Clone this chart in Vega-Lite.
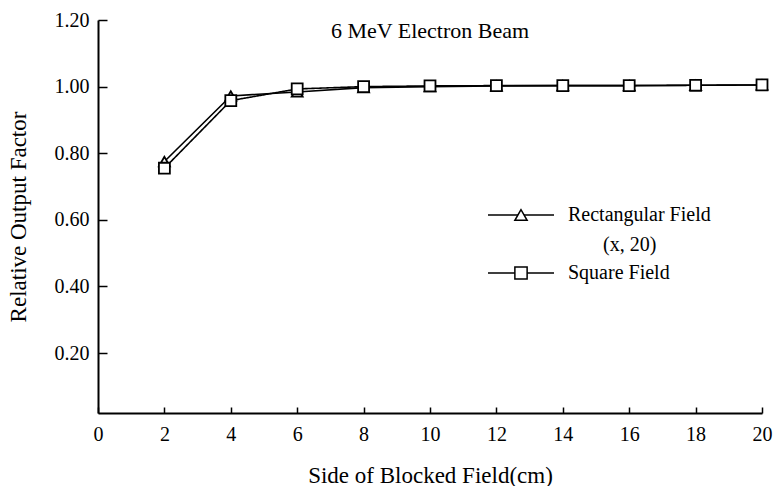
{
  "$schema": "https://vega.github.io/schema/vega-lite/v6.json",
  "width": 664,
  "height": 393,
  "autosize": {"type": "none"},
  "padding": {"left": 98, "top": 20, "right": 14, "bottom": 73},
  "background": "white",
  "config": {
    "font": "Liberation Serif",
    "view": {"stroke": null},
    "style": {"guide-label": {"lineHeight": 30}},
    "axis": {
      "domainColor": "black",
      "domainWidth": 2,
      "tickColor": "black",
      "tickWidth": 1.5,
      "labelColor": "black",
      "labelFont": "Liberation Serif",
      "labelFontSize": 20,
      "titleColor": "black",
      "titleFont": "Liberation Serif",
      "titleFontSize": 23,
      "titleFontWeight": "normal",
      "grid": false
    },
    "legend": {
      "labelFont": "Liberation Serif",
      "labelFontSize": 20,
      "labelColor": "black"
    }
  },
  "title": {
    "text": "6 MeV Electron Beam",
    "font": "Liberation Serif",
    "fontSize": 22,
    "fontWeight": "normal",
    "color": "black",
    "anchor": "middle",
    "offset": -33
  },
  "data": {
    "values": [
      {"side": 2, "factor": 0.775, "series": "Rectangular Field"},
      {"side": 4, "factor": 0.972, "series": "Rectangular Field"},
      {"side": 6, "factor": 0.984, "series": "Rectangular Field"},
      {"side": 8, "factor": 0.997, "series": "Rectangular Field"},
      {"side": 10, "factor": 1.0, "series": "Rectangular Field"},
      {"side": 12, "factor": 1.002, "series": "Rectangular Field"},
      {"side": 14, "factor": 1.003, "series": "Rectangular Field"},
      {"side": 16, "factor": 1.003, "series": "Rectangular Field"},
      {"side": 18, "factor": 1.004, "series": "Rectangular Field"},
      {"side": 20, "factor": 1.005, "series": "Rectangular Field"},
      {"side": 2, "factor": 0.755, "series": "Square Field"},
      {"side": 4, "factor": 0.958, "series": "Square Field"},
      {"side": 6, "factor": 0.993, "series": "Square Field"},
      {"side": 8, "factor": 1.0, "series": "Square Field"},
      {"side": 10, "factor": 1.002, "series": "Square Field"},
      {"side": 12, "factor": 1.003, "series": "Square Field"},
      {"side": 14, "factor": 1.003, "series": "Square Field"},
      {"side": 16, "factor": 1.003, "series": "Square Field"},
      {"side": 18, "factor": 1.004, "series": "Square Field"},
      {"side": 20, "factor": 1.005, "series": "Square Field"}
    ]
  },
  "encoding": {
    "x": {
      "field": "side",
      "type": "quantitative",
      "scale": {"domain": [0, 20], "nice": false, "zero": false},
      "axis": {
        "values": [0, 2, 4, 6, 8, 10, 12, 14, 16, 18, 20],
        "tickSize": -6,
        "labelPadding": 17,
        "labelFlush": false,
        "title": "Side of Blocked Field(cm)",
        "titlePadding": 20
      }
    },
    "y": {
      "field": "factor",
      "type": "quantitative",
      "scale": {"domain": [0.02, 1.2], "nice": false, "zero": false},
      "axis": {
        "values": [0.2, 0.4, 0.6, 0.8, 1.0, 1.2],
        "format": ".2f",
        "tickSize": -9,
        "labelPadding": 18,
        "labelFlush": false,
        "title": "Relative Output Factor",
        "titlePadding": 24
      }
    }
  },
  "layer": [
    {
      "transform": [{"filter": "datum.series == 'Rectangular Field'"}],
      "mark": {"type": "line", "color": "black", "strokeWidth": 1.6},
      "encoding": {
        "color": {
          "field": "series",
          "type": "nominal",
          "scale": {"range": ["black"]},
          "legend": {
            "title": null,
            "orient": "none",
            "legendX": 389,
            "legendY": 161,
            "zindex": 1,
            "padding": 0,
            "symbolType": "stroke",
            "symbolSize": 4356,
            "symbolStrokeColor": "black",
            "symbolStrokeWidth": 1.5,
            "symbolOpacity": 1,
            "labelOffset": 13,
            "labelLimit": 400,
            "labelBaseline": "middle",
            "labelExpr": "['Rectangular Field', '\u200b\u00a0\u00a0\u00a0\u00a0\u00a0\u00a0\u00a0(x, 20)']"
          }
        }
      }
    },
    {
      "transform": [{"filter": "datum.series == 'Square Field'"}],
      "mark": {"type": "line", "color": "black", "strokeWidth": 1.6},
      "encoding": {
        "strokeDash": {
          "field": "series",
          "type": "nominal",
          "scale": {"range": [[1, 0]]},
          "legend": {
            "title": null,
            "orient": "none",
            "legendX": 389,
            "legendY": 219,
            "zindex": 1,
            "padding": 0,
            "symbolType": "stroke",
            "symbolSize": 4356,
            "symbolStrokeColor": "black",
            "symbolStrokeWidth": 1.5,
            "symbolOpacity": 1,
            "labelOffset": 13,
            "labelLimit": 400,
            "labelBaseline": "middle"
          }
        }
      }
    },
    {
      "mark": {
        "type": "point",
        "filled": true,
        "fill": "white",
        "stroke": "black",
        "strokeWidth": 1.8,
        "size": 120,
        "opacity": 1
      },
      "encoding": {
        "shape": {
          "field": "series",
          "type": "nominal",
          "scale": {
            "domain": ["Rectangular Field", "Square Field"],
            "range": ["triangle-up", "square"]
          },
          "legend": {
            "title": null,
            "orient": "none",
            "legendX": 413,
            "legendY": 185,
            "zindex": 2,
            "padding": 0,
            "rowPadding": 38,
            "symbolSize": 150,
            "labelOffset": 13,
            "labelLimit": 400,
            "labelBaseline": "middle",
            "labelExpr": "''"
          }
        }
      }
    }
  ]
}
